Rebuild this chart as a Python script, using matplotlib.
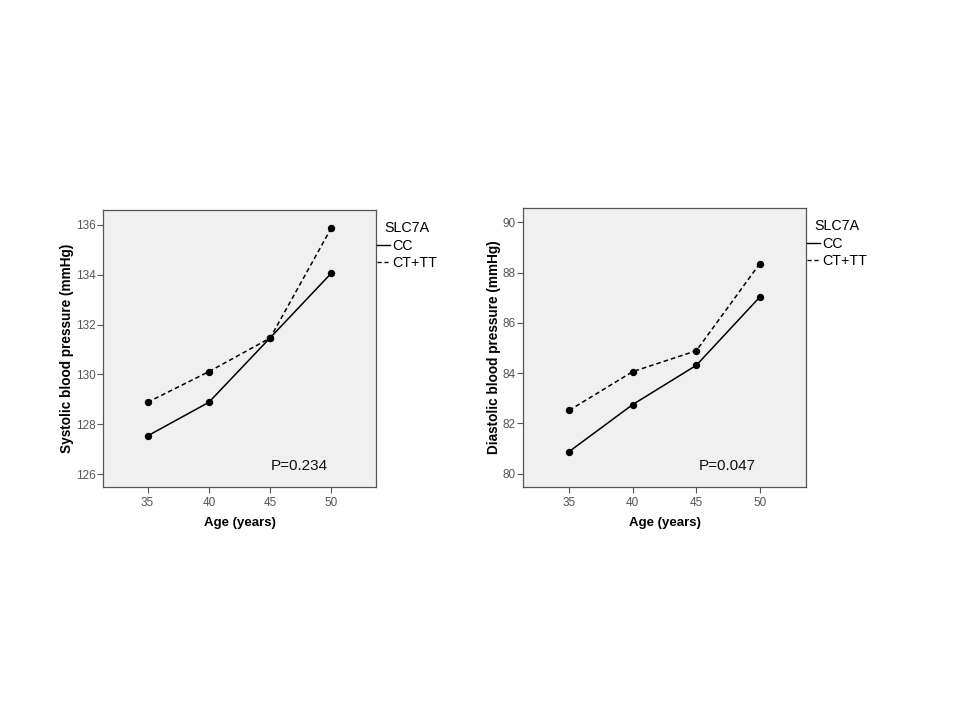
import matplotlib
matplotlib.use('Agg')
import matplotlib.pyplot as plt
from matplotlib.lines import Line2D

plt.rcParams['font.family'] = ['Liberation Sans', 'DejaVu Sans']

# data
age = [35, 40, 45, 50]
sbp_cc = [127.53, 128.88, 131.47, 134.07]
sbp_ct = [128.88, 130.11, 131.46, 135.89]
dbp_cc = [80.88, 82.75, 84.31, 87.03]
dbp_ct = [82.52, 84.06, 84.89, 88.36]

sbp_ticks = [126, 128, 130, 132, 134, 136]
dbp_ticks = [80, 82, 84, 86, 88, 90]

fig = plt.figure(figsize=(9.6, 7.2), dpi=100)
fig.patch.set_facecolor('white')

W, H = 960.0, 720.0
# axes boxes in pixels: left, top, right, bottom
boxes = [(103, 210, 376, 487), (523, 208, 806, 487)]
ylims = [(125.48, 136.6), (79.47, 90.57)]
panels = [
    (sbp_cc, sbp_ct, sbp_ticks, 'Systolic blood pressure (mmHg)', 'P=0.234'),
    (dbp_cc, dbp_ct, dbp_ticks, 'Diastolic blood pressure (mmHg)', 'P=0.047'),
]

for (l, t, r, b), yl, (cc, ct, yt, ylab, ptxt) in zip(boxes, ylims, panels):
    ax = fig.add_axes([l / W, 1 - b / H, (r - l) / W, (b - t) / H])
    ax.set_facecolor('#f0f0f0')
    ax.plot(age, cc, color='black', lw=1.1, ls='-', marker='o', ms=4.3)
    ax.plot(age, ct, color='black', lw=1.1, ls=(0, (3, 2)), marker='o', ms=4.3)
    ax.set_xlim(31.37, 53.63)
    ax.set_ylim(*yl)
    ax.set_xticks(age)
    ax.set_yticks(yt)
    ax.tick_params(labelsize=8.5, labelcolor='#555555', color='#555555',
                   length=4, width=0.8, pad=1.5)
    ax.tick_params(axis='x', pad=3)
    for s in ax.spines.values():
        s.set_color('#555555')
        s.set_linewidth(0.9)
    ax.set_xlabel('Age (years)', fontsize=9.5, fontweight='bold', labelpad=6)
    ax.set_ylabel(ylab, fontsize=9.8, fontweight='bold', labelpad=1)
    ax.text(0.72, 0.076, ptxt, transform=ax.transAxes, fontsize=11,
            ha='center', va='center', color='#111111')

    handles = [Line2D([], [], color='black', lw=1.0, ls='-'),
               Line2D([], [], color='black', lw=1.0, ls=(0, (3, 2)))]
    ax.legend(handles, ['CC', 'CT+TT'], title='SLC7A',
              loc='upper left', bbox_to_anchor=(1.003, 0.96),
              frameon=False, fontsize=10.3, title_fontsize=10.3,
              handlelength=0.95, handletextpad=0.15, labelspacing=0.25,
              borderaxespad=0.0, borderpad=0.0)

fig.savefig('out.png', dpi=100, facecolor='white')
